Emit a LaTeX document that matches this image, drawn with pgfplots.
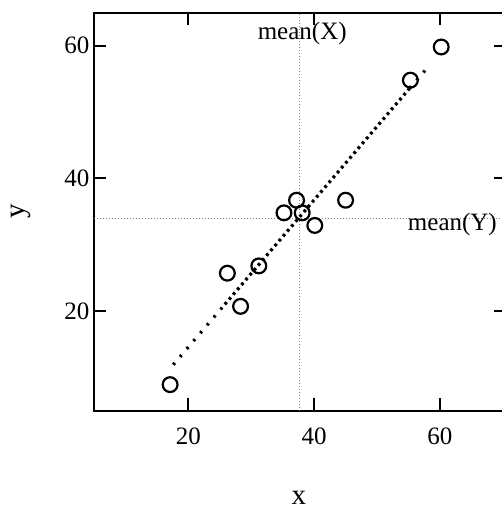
\documentclass[border=0pt]{standalone}
\usepackage{fontspec}
\setmainfont{Liberation Serif}
\usepackage{pgfplots}
\pgfplotsset{compat=1.18}

\begin{document}
\fontsize{12.5bp}{14bp}\selectfont
\begin{tikzpicture}
  \begin{axis}[
      name=ax,
      scale only axis,
      width=206bp, height=199bp,
      xmin=5, xmax=70.5, ymin=5, ymax=65,
      xtick={20,40,60}, ytick={20,40,60},
      tick align=inside, major tick length=6bp,
      axis line style={line width=1bp},
      every tick/.style={line width=1bp, black},
      /pgf/number format/assume math mode=true,
      tick label style={font=\fontsize{12.5bp}{14bp}\selectfont},
      xticklabel style={yshift=-4.5bp},
      yticklabel style={xshift=2bp},
      xlabel={x}, ylabel={y},
      label style={font=\fontsize{14.5bp}{16bp}\selectfont},
      xlabel style={at={(axis description cs:0.497,-0.237)}, anchor=base, inner sep=0pt},
      ylabel style={at={(axis description cs:-0.177,0.5)}, anchor=center},
      clip=false,
    ]
    % mean lines
    \addplot[gray, line width=0.5bp, dash pattern=on 0.5bp off 1bp] coordinates {(37.6,5) (37.6,65)};
    \addplot[gray, line width=0.5bp, dash pattern=on 0.5bp off 1bp] coordinates {(5,33.9) (70.5,33.9)};
    % regression line
    \addplot[black, line width=1.6bp, dash pattern=on 1.2bp off 4bp] coordinates {(17.6,11.9) (25.8,21.0)};
    \addplot[black, line width=1.6bp, dash pattern=on 1.4bp off 1.8bp] coordinates {(25.8,21.0) (55.2,53.6)};
    \addplot[black, line width=1.6bp, dash pattern=on 1.2bp off 4bp] coordinates {(55.2,53.6) (58.4,57.1)};
    % observations
    \addplot[only marks, mark=o, mark size=3.7bp, mark options={line width=1.1bp, black}] coordinates {
      (17.1,8.9) (26.2,25.7) (28.3,20.7) (31.2,26.8) (35.2,34.8) (37.2,36.7)
      (38.1,34.8) (40.1,32.9) (45.0,36.7) (55.3,54.8) (60.2,59.8)
    };
    \node[anchor=base] at (axis cs:38.1,61.0) {mean(X)};
    \node[anchor=base east, inner sep=0pt] at (axis cs:69.1,32.2) {mean(Y)};
  \end{axis}
  \pgfresetboundingbox
  \path[use as bounding box] ([shift={(-47bp,-49.25bp)}]ax.south west) rectangle ([shift={(204bp,205.25bp)}]ax.south west);
\end{tikzpicture}
\end{document}
